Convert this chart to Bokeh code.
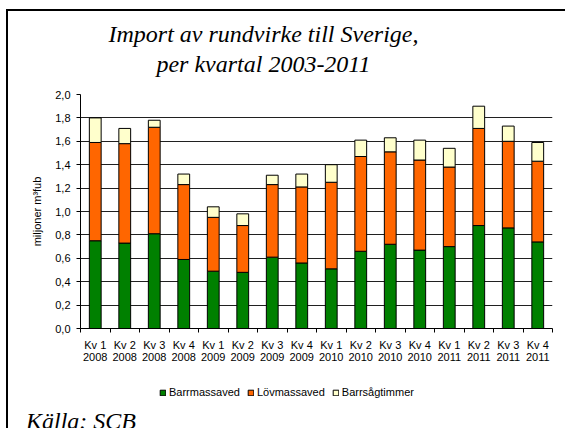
import numpy as np
from bokeh.plotting import figure
from bokeh.layouts import column
from bokeh.models import (ColumnDataSource, Range1d, FixedTicker, CustomJSTickFormatter,
                          Legend, LegendItem, Label, Div)
from bokeh.embed import file_html
from bokeh.resources import INLINE

# ---- data ----
quarters = ["Kv 1", "Kv 2", "Kv 3", "Kv 4"] * 4
years = ["2008"] * 4 + ["2009"] * 4 + ["2010"] * 4 + ["2011"] * 4
categories = [f"{q}\n{y}" for q, y in zip(quarters, years)]

barrmassaved = [0.75, 0.73, 0.81, 0.59, 0.49, 0.48, 0.61, 0.56, 0.51, 0.66, 0.72, 0.67, 0.70, 0.88, 0.86, 0.74]
lovmassaved = [0.84, 0.85, 0.91, 0.64, 0.46, 0.40, 0.62, 0.65, 0.74, 0.81, 0.79, 0.77, 0.68, 0.83, 0.74, 0.69]
barrsagtimmer = [0.21, 0.13, 0.06, 0.09, 0.09, 0.10, 0.08, 0.11, 0.15, 0.14, 0.12, 0.17, 0.16, 0.19, 0.13, 0.16]

series_names = ["Barrmassaved", "Lövmassaved", "Barrsågtimmer"]
colors = ["#008000", "#FF6600", "#FFFFCC"]
yticks = [0.0, 0.2, 0.4, 0.6, 0.8, 1.0, 1.2, 1.4, 1.6, 1.8, 2.0]
title_lines = ["Import av rundvirke till Sverige,", "per kvartal 2003-2011"]
source_text = "Källa: SCB"

n = len(categories)
x = np.arange(n) + 0.5
src = ColumnDataSource(dict(x=x, barr=barrmassaved, lov=lovmassaved, sag=barrsagtimmer))
stack_cols = ["barr", "lov", "sag"]


def bare_strip(height):
    f = figure(width=557, height=height, output_backend="svg", toolbar_location=None,
               x_range=Range1d(0, n), y_range=Range1d(10, 11),
               x_axis_type=None, y_axis_type=None,
               min_border_left=0, min_border_right=0, min_border_top=0, min_border_bottom=0)
    f.title = None
    f.outline_line_color = None
    f.background_fill_color = "white"
    f.border_fill_color = "white"
    return f


# ---- title strip (frame aligned with the chart frame) ----
p0 = bare_strip(76)
for txt, yy in ((title_lines[0], 54), (title_lines[1], 24)):
    p0.add_layout(Label(x=183, y=yy, x_units="screen", y_units="screen", text=txt,
                        text_align="center", text_baseline="middle",
                        text_font="Liberation Serif", text_font_style="italic",
                        text_font_size="24px", text_color="black"))

# ---- main chart ----
p = figure(width=557, height=281, output_backend="svg", toolbar_location=None,
           x_range=Range1d(0, n), y_range=Range1d(0, 2.0),
           min_border_left=72, min_border_right=13, min_border_top=7, min_border_bottom=40)
p.title = None
p.outline_line_color = None
p.background_fill_color = "white"
p.border_fill_color = "white"

rs = p.vbar_stack(stack_cols, x="x", width=0.4, source=src,
                  fill_color=colors, line_color="black", line_width=1)

p.xaxis.ticker = FixedTicker(ticks=list(x), minor_ticks=list(range(n + 1)))
p.xaxis.formatter = CustomJSTickFormatter(args=dict(labels=categories),
                                          code="return labels[Math.floor(tick)];")
p.xaxis.major_tick_out = 0
p.xaxis.major_tick_in = 0
p.xaxis.minor_tick_out = 4
p.xaxis.minor_tick_in = 0
p.xaxis.minor_tick_line_color = "black"
p.xaxis.major_label_standoff = 6
p.xaxis.major_label_text_line_height = 1.0

p.yaxis.ticker = FixedTicker(ticks=yticks)
p.yaxis.formatter = CustomJSTickFormatter(code="return tick.toFixed(1).replace('.', ',');")
p.yaxis.major_tick_out = 4
p.yaxis.major_tick_in = 0
p.yaxis.minor_tick_line_color = None
p.yaxis.major_label_standoff = 6
p.yaxis.axis_label = "miljoner m³fub"
p.yaxis.axis_label_standoff = 9
p.yaxis.axis_label_text_font = "Liberation Sans"
p.yaxis.axis_label_text_font_size = "11px"
p.yaxis.axis_label_text_font_style = "normal"
p.yaxis.axis_label_text_color = "black"

for ax in (p.xaxis[0], p.yaxis[0]):
    ax.axis_line_color = "black"
    ax.major_tick_line_color = "black"
    ax.major_label_text_font = "Liberation Sans"
    ax.major_label_text_font_size = "11px"
    ax.major_label_text_color = "black"

p.xgrid.grid_line_color = None
p.ygrid.grid_line_color = "#202020"
p.ygrid.grid_line_width = 1

# ---- legend strip (frame aligned with the chart frame) ----
p2 = bare_strip(32)
# same stacked series in the strip (outside its visible range) only to feed the legend swatches
swatches = p2.vbar_stack(stack_cols, x="x", width=0.4, source=src,
                         fill_color=colors, line_color="black", line_width=1)
legend = Legend(items=[LegendItem(label=nm, renderers=[r]) for nm, r in zip(series_names, swatches)],
                orientation="horizontal", location=(79, 2),
                glyph_width=7, glyph_height=7, label_standoff=3, spacing=7,
                padding=0, margin=0, border_line_color=None, background_fill_alpha=0,
                label_text_font="Liberation Sans", label_text_font_size="11px",
                label_height=12, label_text_color="black")
p2.add_layout(legend, "center")

# ---- source note ----
note = Div(text=source_text, width=544, height=20,
           styles={"font-family": "'Liberation Serif', serif", "font-style": "italic",
                   "font-size": "24px", "line-height": "24px", "color": "black",
                   "padding-left": "13px", "padding-top": "4px", "overflow": "visible",
                   "white-space": "nowrap"})

layout = column(p0, p, p2, note, spacing=0)
layout.styles = {"margin-left": "6px", "margin-top": "9px",
                 "border-left": "2px solid black", "border-top": "2px solid black"}

open("out.html", "w").write(file_html(layout, INLINE))
